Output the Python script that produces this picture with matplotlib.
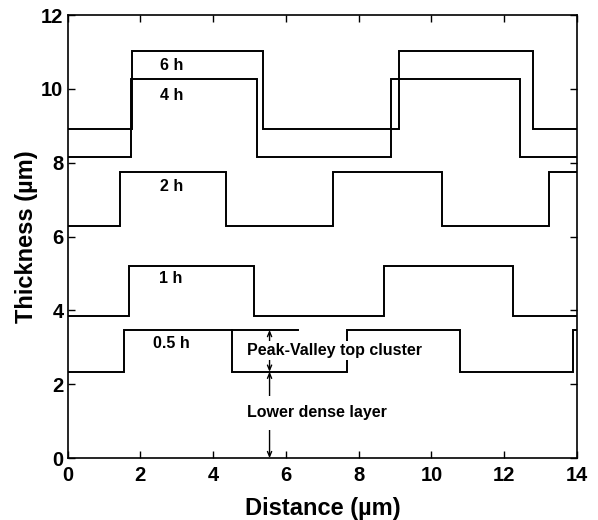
import matplotlib
matplotlib.use("Agg")
import matplotlib.pyplot as plt

# Thickness profiles (step edges in µm, layer levels in µm) for each deposition time
edges_6h = [0, 1.78, 5.37, 9.11, 12.80, 14]
levels_6h = [8.91, 11.03, 8.91, 11.03, 8.91]

edges_4h = [0, 1.73, 5.21, 8.88, 12.42, 14]
levels_4h = [8.16, 10.27, 8.16, 10.27, 8.16]

edges_2h = [0, 1.45, 4.34, 7.30, 10.30, 13.23, 14]
levels_2h = [6.29, 7.74, 6.29, 7.74, 6.29, 7.74]

edges_1h = [0, 1.69, 5.13, 8.69, 12.23, 14]
levels_1h = [3.85, 5.20, 3.85, 5.20, 3.85]

edges_05h = [0, 1.54, 4.52, 7.68, 10.78, 13.88, 14]
levels_05h = [2.34, 3.47, 2.34, 3.47, 2.34, 3.47]

# Peak level reference line extended past the first drop of the 0.5 h profile
ref_x = [4.52, 6.33]

series_labels = ["6 h", "4 h", "2 h", "1 h", "0.5 h"]
label_x = [2.87, 2.85, 2.85, 2.83, 2.84]
label_y = [10.63, 9.82, 7.37, 4.87, 3.11]

arrow_x = 5.55

xticks = [0, 2, 4, 6, 8, 10, 12, 14]
yticks = [0, 2, 4, 6, 8, 10, 12]

plt.rcParams["font.family"] = ["Liberation Sans", "DejaVu Sans"]

fig = plt.figure(figsize=(5.98, 5.20), dpi=100)
ax = fig.add_axes([0.113, 0.119, 0.852, 0.852])

lw = 1.4
for e, v in [(edges_6h, levels_6h), (edges_4h, levels_4h), (edges_2h, levels_2h),
             (edges_1h, levels_1h), (edges_05h, levels_05h)]:
    ax.stairs(v, e, baseline=None, color="black", lw=lw, zorder=2)

ax.plot(ref_x, [levels_05h[1]] * 2, color="black", lw=lw, zorder=2)

for s, x, y in zip(series_labels, label_x, label_y):
    ax.text(x, y, s, ha="center", va="center", fontsize=11.5, fontweight="bold", zorder=3)

# Double-headed arrows marking the two layers
valley = levels_05h[0]
peak = levels_05h[1]
aprops = dict(arrowstyle="<->,head_length=0.35,head_width=0.15", color="black",
              lw=1.0, shrinkA=0, shrinkB=0)
ax.annotate("", xy=(arrow_x, peak), xytext=(arrow_x, valley), arrowprops=aprops, zorder=2)
ax.annotate("", xy=(arrow_x, valley), xytext=(arrow_x, 0), arrowprops=aprops, zorder=2)

ax.text(4.92, 2.91, "Peak-Valley top cluster", ha="left", va="center",
        fontsize=11.5, fontweight="bold", zorder=4,
        bbox=dict(boxstyle="square,pad=0.12", facecolor="white", edgecolor="none"))
ax.text(4.92, 1.23, "Lower dense layer", ha="left", va="center",
        fontsize=11.5, fontweight="bold", zorder=4,
        bbox=dict(boxstyle="square,pad=0.6", facecolor="white", edgecolor="none"))

ax.set_xlim(0, 14)
ax.set_ylim(0, 12)
ax.set_xticks(xticks)
ax.set_yticks(yticks)
ax.tick_params(direction="in", top=True, right=True, length=5, width=1.0,
               labelsize=14.5)
ax.tick_params(axis="x", pad=6)
ax.tick_params(axis="y", pad=3)
for lab in ax.get_xticklabels() + ax.get_yticklabels():
    lab.set_fontweight("bold")
for sp in ax.spines.values():
    sp.set_linewidth(1.2)

ax.set_xlabel("Distance (µm)", fontsize=17, fontweight="bold", labelpad=8)
ax.set_ylabel("Thickness (µm)", fontsize=17, fontweight="bold", labelpad=2)

fig.savefig("out.png", dpi=100)
